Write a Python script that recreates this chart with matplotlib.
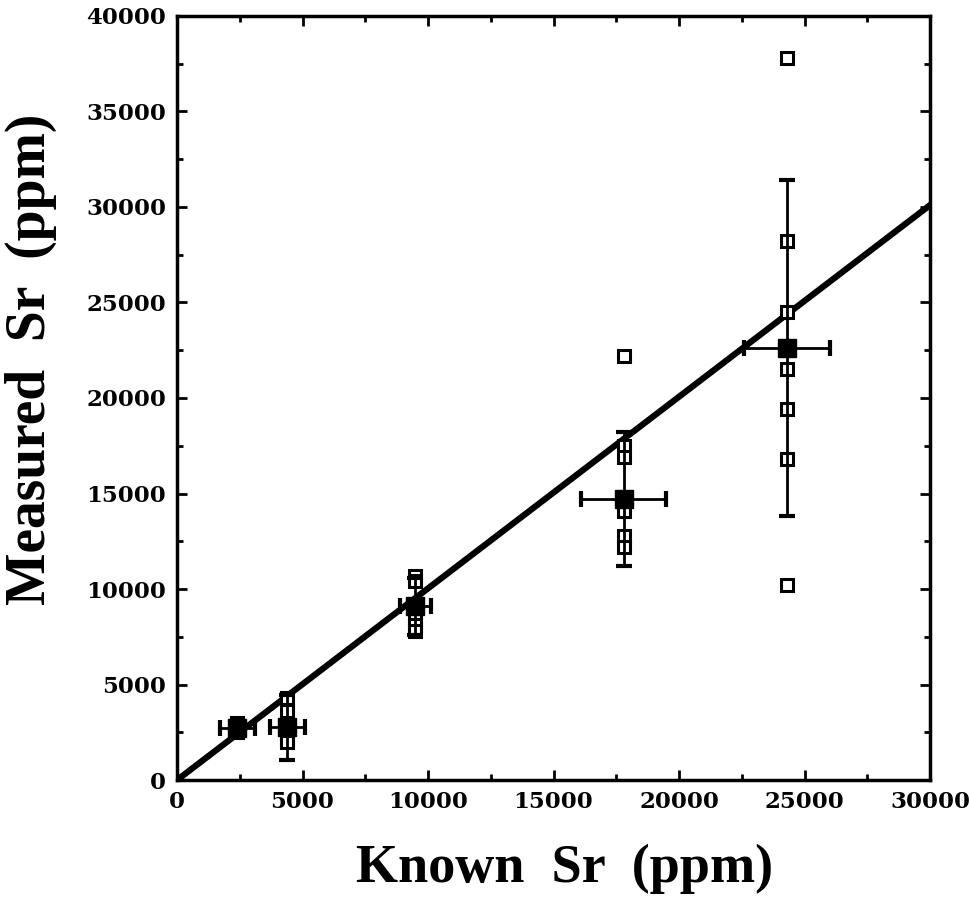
import numpy as np
from matplotlib import pyplot as plt
from matplotlib.ticker import MultipleLocator

# individual measurements (open squares)
known_pts = [2400, 2400, 2400, 2400,
             4400, 4400, 4400, 4400, 4400,
             9500, 9500, 9500, 9500, 9500,
             17800, 17800, 17800, 17800, 17800, 17800,
             24300, 24300, 24300, 24300, 24300, 24300, 24300]
measured_pts = [2500, 2800, 3000, 2700,
                4300, 3600, 2800, 2200, 2000,
                10700, 10400, 8400, 8100, 7800,
                22200, 17500, 16900, 14100, 12800, 12200,
                37800, 28200, 24500, 21500, 19400, 16800, 10200]

# means with error bars (filled squares)
known_mean = [2400, 4400, 9500, 17800, 24300]
measured_mean = [2700, 2750, 9100, 14700, 22600]
known_err = [700, 700, 600, 1700, 1700]
measured_err = [400, 1700, 1500, 3500, 8800]

fit_x = [0, 30000]
fit_y = [0, 30100]

fig = plt.figure(figsize=(9.69, 9.18), dpi=100)
ax = fig.add_axes([0.1827, 0.1503, 0.7771, 0.8323])

ax.plot(fit_x, fit_y, color="black", linewidth=4.5, zorder=2)
ax.plot(known_pts, measured_pts, "s", markerfacecolor="white",
        markeredgecolor="black", markersize=8.5, markeredgewidth=2.2, zorder=3)
ax.errorbar(known_mean, measured_mean, xerr=known_err, yerr=measured_err,
            fmt="s", color="black", markersize=13, linewidth=2,
            capsize=6, capthick=3, zorder=4)

ax.set_xlim(0, 30000)
ax.set_ylim(0, 40000)
ax.set_xticks(np.arange(0, 30001, 5000))
ax.set_yticks(np.arange(0, 40001, 5000))
ax.xaxis.set_minor_locator(MultipleLocator(2500))
ax.yaxis.set_minor_locator(MultipleLocator(2500))
ax.tick_params(which="both", direction="in", top=True, right=True, width=2)
ax.tick_params(which="major", length=7, labelsize=16.5, pad=8)
ax.tick_params(which="minor", length=4)
for lbl in ax.get_xticklabels() + ax.get_yticklabels():
    lbl.set_fontfamily("DejaVu Serif")
    lbl.set_fontweight("bold")
for sp in ax.spines.values():
    sp.set_linewidth(2.5)

ax.set_xlabel("Known  Sr  (ppm)", fontsize=39, fontweight="bold",
              fontfamily="Liberation Serif")
ax.set_ylabel("Measured  Sr  (ppm)", fontsize=40, fontweight="bold",
              fontfamily="Liberation Serif")
ax.xaxis.set_label_coords(0.515, -0.083)
ax.yaxis.set_label_coords(-0.16, 0.55)

plt.savefig("out.png", dpi=100)
